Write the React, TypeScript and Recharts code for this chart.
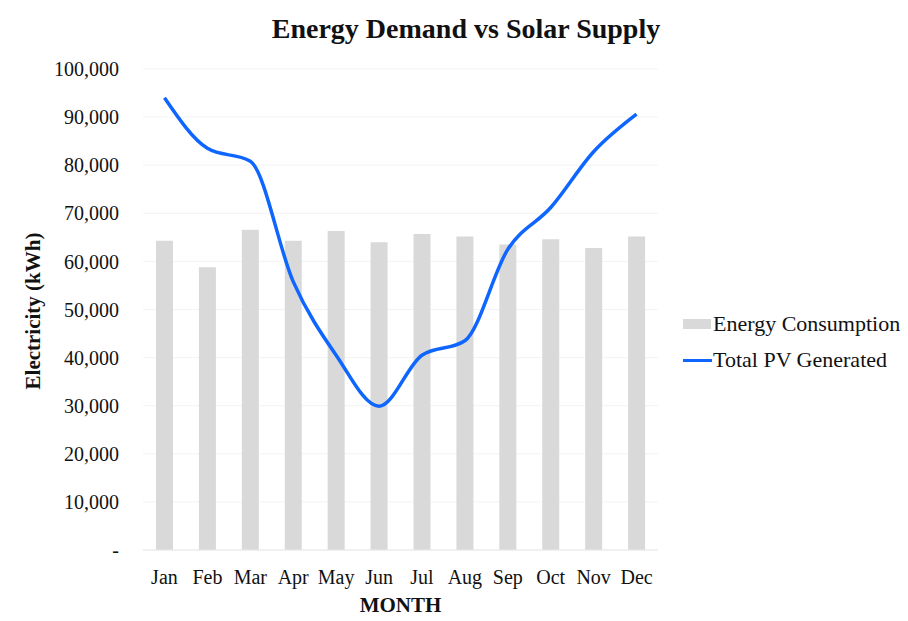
import { ComposedChart, Bar, Line, XAxis, YAxis, CartesianGrid, Legend } from 'recharts';

const months = ['Jan', 'Feb', 'Mar', 'Apr', 'May', 'Jun', 'Jul', 'Aug', 'Sep', 'Oct', 'Nov', 'Dec'];
const consumption = [64300, 58800, 66600, 64300, 66300, 64000, 65700, 65200, 63500, 64600, 62800, 65200];
const pvGenerated = [94000, 83500, 80800, 55800, 40500, 29900, 40500, 43500, 62500, 71200, 82800, 90600];
const yTicks = [0, 10000, 20000, 30000, 40000, 50000, 60000, 70000, 80000, 90000, 100000];

const FONT = '"Liberation Serif", "Times New Roman", serif';

const data = months.map((m, i) => ({
  month: m,
  consumption: consumption[i],
  pv: pvGenerated[i],
}));

function LegendBox() {
  return (
    <div style={{ fontFamily: FONT, fontSize: 22, color: '#111', whiteSpace: 'nowrap' }}>
      <div style={{ display: 'flex', alignItems: 'center', height: 30 }}>
        <span style={{ display: 'inline-block', width: 28, height: 10, background: '#d9d9d9', marginRight: 2 }} />
        Energy Consumption
      </div>
      <div style={{ display: 'flex', alignItems: 'center', height: 30, marginTop: 6 }}>
        <span style={{ display: 'inline-block', width: 29, height: 3, background: '#0f66ff', marginRight: 1 }} />
        Total PV Generated
      </div>
    </div>
  );
}

export default function App() {
  return (
    <div style={{ position: 'absolute', left: 0, top: 0, width: 908, height: 621, overflow: 'hidden', background: '#fff' }}>
      <div
        style={{
          position: 'absolute', left: 0, width: 932, top: 13, textAlign: 'center',
          fontFamily: FONT, fontWeight: 'bold', fontSize: 28, color: '#111',
        }}
      >
        Energy Demand vs Solar Supply
      </div>
      <div
        style={{
          position: 'absolute', left: 33, top: 311, transform: 'translate(-50%, -50%) rotate(-90deg)',
          fontFamily: FONT, fontWeight: 'bold', fontSize: 21, color: '#111', whiteSpace: 'nowrap',
        }}
      >
        Electricity (kWh)
      </div>
      <ComposedChart
        width={908}
        height={621}
        data={data}
        margin={{ top: 69, right: 250, left: 33, bottom: 31 }}
        style={{ fontFamily: FONT }}
      >
        <CartesianGrid vertical={false} stroke="#f3f3f3" />
        <XAxis
          dataKey="month"
          tickLine={false}
          axisLine={{ stroke: '#e8e8e8' }}
          tickSize={0}
          tickMargin={20}
          height={40}
          interval={0}
          tick={{ fill: '#111', fontSize: 20, fontFamily: FONT }}
          label={{ value: 'MONTH', position: 'bottom', offset: 7, fill: '#111', fontSize: 21, fontWeight: 'bold', fontFamily: FONT }}
        />
        <YAxis
          width={110}
          domain={[0, 100000]}
          ticks={yTicks}
          tickLine={false}
          axisLine={false}
          tickSize={0}
          tickMargin={24}
          tick={{ fill: '#111', fontSize: 20, fontFamily: FONT }}
          tickFormatter={(v: number) => (v === 0 ? '-' : v.toLocaleString('en-US'))}
        />
        <Legend
          layout="horizontal"
          align="center"
          verticalAlign="middle"
          content={() => <LegendBox />}
          wrapperStyle={{ left: 683, top: 309, width: 260 }}
        />
        <Bar dataKey="consumption" name="Energy Consumption" fill="#d9d9d9" barSize={17} isAnimationActive={false} />
        <Line
          type="monotone"
          dataKey="pv"
          name="Total PV Generated"
          stroke="#0f66ff"
          strokeWidth={3.5}
          dot={false}
          activeDot={false}
          isAnimationActive={false}
        />
      </ComposedChart>
    </div>
  );
}
